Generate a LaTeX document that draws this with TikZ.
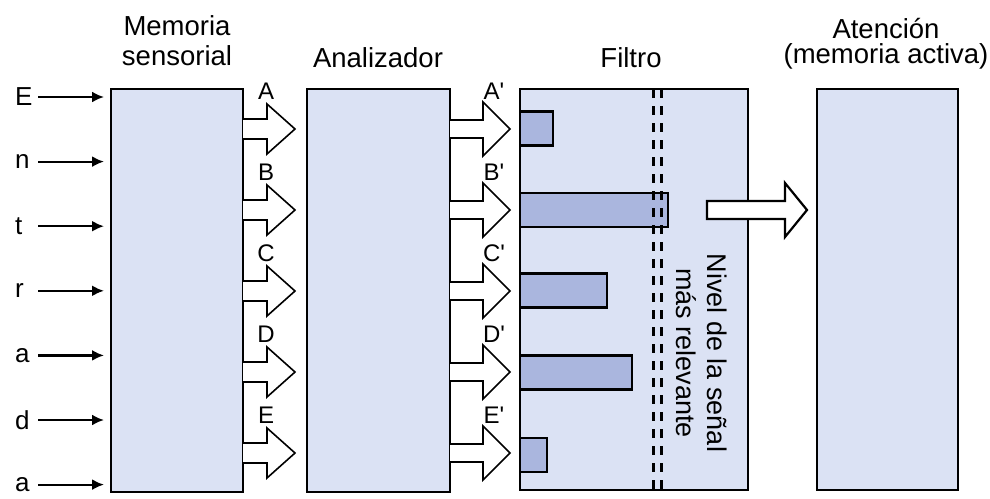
\documentclass[tikz,border=0pt]{standalone}
\usepackage{fontspec}
\setmainfont{Liberation Sans}
\newfontfamily\plainsans{Liberation Sans}
\usetikzlibrary{arrows.meta,calc}
\definecolor{boxfill}{RGB}{219,226,244}
\definecolor{barfill}{RGB}{170,182,222}
\begin{document}
\begin{tikzpicture}[x=1pt,y=-1pt,
  stage/.style={draw=black, line width=2.5pt, fill=boxfill, inner sep=0pt, outer sep=0pt, anchor=north west},
  lbl/.style={font=\fontsize{27.5}{30}\selectfont, inner sep=0pt, anchor=base},
  inl/.style={font=\fontsize{26}{28}\selectfont, inner sep=0pt, anchor=west},
  chl/.style={font=\fontsize{24}{26}\selectfont, inner sep=0pt},
  inarr/.style={line width=2.2pt, shorten >=7pt, -{Latex[length=12pt,width=11pt]}},
  blk/.style={draw=black, fill=white, line width=1.6pt, line join=miter},
  barn/.style={draw=black, line width=2.5pt, fill=barfill, inner sep=0pt, outer sep=0pt, anchor=west, minimum height=34pt},
  lvl/.style={line width=3pt, dash pattern=on 9pt off 8pt}
]
\useasboundingbox[fill=white] (0,0) rectangle (990,498);

% stages
\node[stage, minimum width=132pt, minimum height=403pt] (mem) at (111,89) {};
\node[stage, minimum width=143pt, minimum height=403pt] (ana) at (307,89) {};
\node[stage, minimum width=228pt, minimum height=401pt] (fil) at (520,89) {};
\node[stage, minimum width=141pt, minimum height=401pt] (ate) at (817,89) {};

% titles
\node[lbl] (t1a) at (177,35) {Memoria};
\node[lbl] (t1b) at (177,65) {sensorial};
\node[lbl] (t2) at (378,67) {Analizador};
\node[lbl] (t3) at (631,67) {Filtro};
\node[lbl] (t4a) at (886,38) {Atención};
\node[lbl] (t4b) at (886,63) {(memoria activa)};

% inputs
\foreach \t [count=\k from 0] in {E,n,t,r,a,d,a} {
  \pgfmathsetmacro\yy{97+64.6*\k}
  \node[inl] (in\k) at (15,\yy) {\t};
  \coordinate (s\k) at (38,\yy);
  \draw[inarr] (s\k) -- (mem.west |- s\k);
}

% bars
\node[barn, minimum width=33pt]  (b1) at (fil.west |- 0,128.5) {};
\node[barn, minimum width=148pt] (b2) at (fil.west |- 0,210) {};
\node[barn, minimum width=87pt]  (b3) at (fil.west |- 0,290.5) {};
\node[barn, minimum width=112pt] (b4) at (fil.west |- 0,372.5) {};
\node[barn, minimum width=27pt]  (b5) at (fil.west |- 0,455) {};

% channel arrows
\foreach \l [count=\k from 0] in {A,B,C,D,E} {
  \pgfmathsetmacro\yy{129+81*\k}
  \coordinate (p\k) at (mem.east |- 0,\yy);
  \draw[blk] ($(p\k)+(0,-10)$) -- ++(24,0) -- ++(0,-15) -- ++(28,25) -- ++(-28,25) -- ++(0,-15) -- ++(-24,0);
  \node[chl] (l\k) at (266,\yy-38) {\l};
  \coordinate (q\k) at (ana.east |- 0,\yy);
  \draw[blk] ($(q\k)+(0,-9)$) -- ++(33,0) -- ++(0,-18) -- ++(27,27) -- ++(-27,27) -- ++(0,-18) -- ++(-33,0);
  \node[chl] (m\k) at (494,\yy-38) {\l{\plainsans'}};
}

% level lines
\coordinate (lv1t) at (653,89);
\coordinate (lv1b) at (653,492);
\coordinate (lv2t) at (661,89);
\coordinate (lv2b) at (661,492);
\draw[lvl] (lv1t) -- (lv1b);
\draw[lvl] (lv2t) -- (lv2b);

\node[font=\fontsize{27}{31}\selectfont, rotate=-90, align=center, inner sep=0pt] (lvtxt) at (702,353) {Nivel de la señal\\más relevante};

% output arrow
\coordinate (ba) at (707,210);
\draw[blk, line width=2.2pt] ($(ba)+(0,-9)$) -- ++(78,0) -- ++(0,-18) -- ++(22,27) -- ++(-22,27) -- ++(0,-18) -- ++(-78,0) -- cycle;
\end{tikzpicture}
\end{document}
